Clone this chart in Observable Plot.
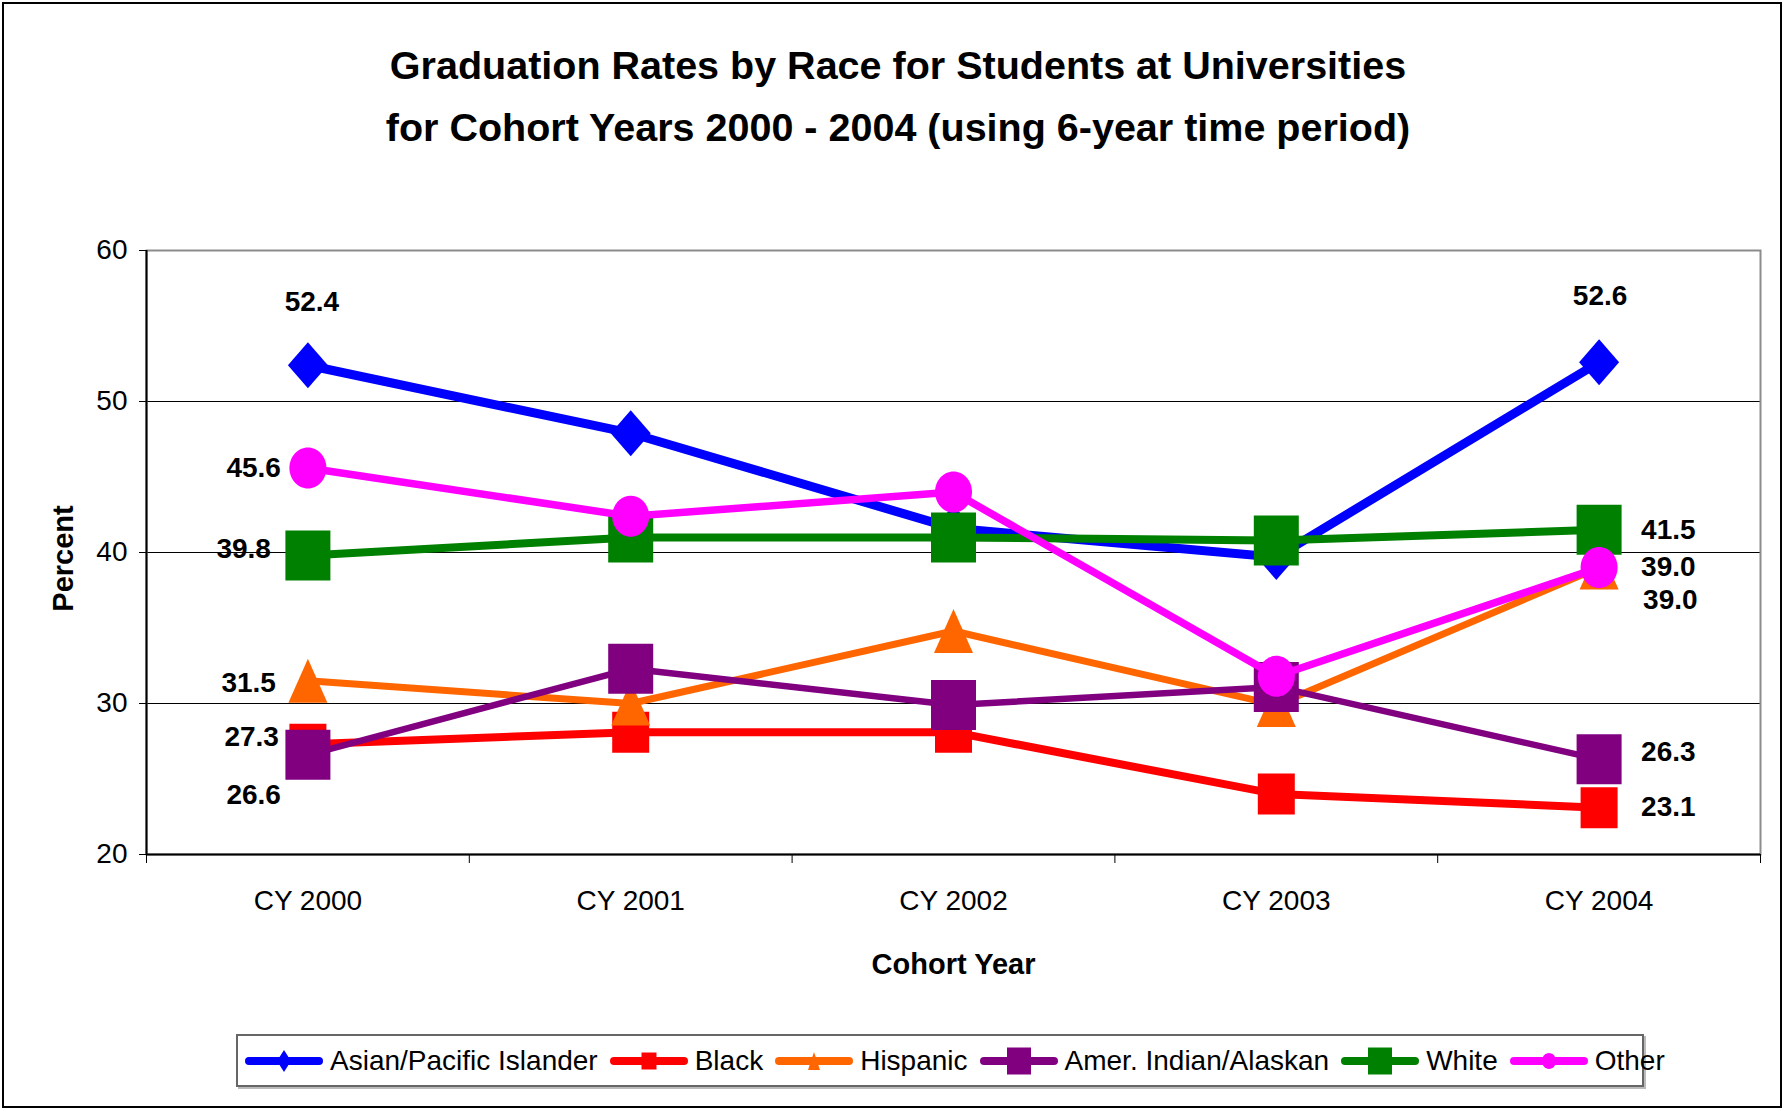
<!DOCTYPE html>
<html><head><meta charset="utf-8">
<script src="https://cdn.jsdelivr.net/npm/d3@7"></script>
<script src="https://cdn.jsdelivr.net/npm/@observablehq/plot@0.6"></script>
<style>
body{margin:0;background:#fff;font-family:"Liberation Sans",Arial,sans-serif;}
#page{position:relative;width:1786px;height:1111px;overflow:hidden;background:#fff;}
#border{position:absolute;left:2px;top:2px;width:1776px;height:1102px;border:2px solid #000;}
#title{position:absolute;left:0;width:1796px;top:34px;text-align:center;font-weight:bold;font-size:39.5px;line-height:62px;color:#000;}
#chart{position:absolute;left:0;top:200px;}
#legend{position:absolute;left:236px;top:1034px;width:1398px;height:49px;border:2px solid #666;box-shadow:2px 2px 0 #bbb;display:flex;align-items:center;padding-left:6px;box-sizing:content-box;}
.item{display:flex;align-items:center;margin-right:11px;font-size:28px;white-space:nowrap;}
.item svg{margin-right:6px;}
</style></head>
<body><div id="page"><div id="border"></div>
<div id="title">Graduation Rates by Race for Students at Universities<br>for Cohort Years 2000 - 2004 (using 6-year time period)</div>
<div id="chart"></div>
<div id="legend"></div>
</div>
<script>
// ---- data ----
const categories = ["CY 2000", "CY 2001", "CY 2002", "CY 2003", "CY 2004"];
const seriesNames = ["Asian/Pacific Islander", "Black", "Hispanic", "Amer. Indian/Alaskan", "White", "Other"];
const asianPacific = [52.4, 47.9, 41.6, 39.7, 52.6];
const black = [27.3, 28.1, 28.1, 24.0, 23.1];
const hispanic = [31.5, 30.0, 34.8, 29.9, 39.0];
const amerIndian = [26.6, 32.3, 29.9, 31.1, 26.3];
const white = [39.8, 41.0, 41.0, 40.8, 41.5];
const other = [45.6, 42.4, 44.0, 31.8, 39.0];
const yTicks = [20, 30, 40, 50, 60];
const xTitle = "Cohort Year";
const yTitle = "Percent";

const seriesValues = [asianPacific, black, hispanic, amerIndian, white, other];

// ---- styles ----
function diamond(w, h) { return {draw(c) { c.moveTo(0, -h/2); c.lineTo(w/2, 0); c.lineTo(0, h/2); c.lineTo(-w/2, 0); c.closePath(); }}; }
function square(w, h) { return {draw(c) { c.rect(-w/2, -h/2, w, h); }}; }
function triangle(w, h) { return {draw(c) { c.moveTo(0, -h/2); c.lineTo(w/2, h/2); c.lineTo(-w/2, h/2); c.closePath(); }}; }
function ellipse(w, h) { return {draw(c) {
  const a = w/2, b = h/2, k = 0.5523;
  c.moveTo(a, 0);
  c.bezierCurveTo(a, k*b, k*a, b, 0, b);
  c.bezierCurveTo(-k*a, b, -a, k*b, -a, 0);
  c.bezierCurveTo(-a, -k*b, -k*a, -b, 0, -b);
  c.bezierCurveTo(k*a, -b, a, -k*b, a, 0);
  c.closePath();
}}; }

const styles = [
  {color: "#0000FF", width: 9, sym: diamond(40, 46), leg: diamond(14, 22)},
  {color: "#FF0000", width: 8, sym: square(37, 41), leg: square(15, 17)},
  {color: "#FF6600", width: 7, sym: triangle(39, 44), leg: triangle(12, 18)},
  {color: "#800080", width: 6.5, sym: square(45, 50), leg: square(24, 27)},
  {color: "#008000", width: 8, sym: square(45, 50), leg: square(24, 27)},
  {color: "#FF00FF", width: 7.5, sym: ellipse(37, 41), leg: ellipse(14, 16)}
];
// label offsets [dx, dy, anchor] for first and last points
const labelOffsets = [
  [[4, -63, "middle"], [1, -66, "middle"]],
  [[-29, -7, "end"], [42, -1, "start"]],
  [[-32, 2, "end"], [44, 32, "start"]],
  [[-27, 40, "end"], [42, -7, "start"]],
  [[-37, -6, "end"], [42, 0, "start"]],
  [[-27, 0, "end"], [42, -1, "start"]]
];

const rows = seriesNames.map((s, i) => categories.map((c, j) => ({series: s, cat: c, x: j, y: seriesValues[i][j]})));
const n = categories.length;
const fmt = d3.format(".1f");
const font = '"Liberation Sans", Arial, sans-serif';

const marks = [
  Plot.ruleY(yTicks.slice(1, -1), {stroke: "#000", strokeWidth: 1}),
  Plot.frame({stroke: "#8c8c8c", strokeWidth: 2}),
  Plot.ruleX([-0.5], {stroke: "#000", strokeWidth: 2}),
  Plot.ruleY([yTicks[0]], {stroke: "#000", strokeWidth: 2}),
  Plot.axisY({ticks: yTicks, tickSize: 7, tickPadding: 12, fontSize: 28, label: null, stroke: "#000"}),
  Plot.axisX({ticks: d3.range(n + 1).map(i => i - 0.5), tickFormat: () => "", tickSize: 9, label: null, stroke: "#000"}),
  Plot.axisX({ticks: d3.range(n), tickFormat: i => categories[i], tickSize: 0, tickPadding: 36, fontSize: 28, label: null}),
  Plot.text([xTitle], {frameAnchor: "bottom", dy: 119, fontSize: 29, fontWeight: "bold", fill: "#000"}),
  Plot.text([yTitle], {frameAnchor: "left", dx: -83, dy: 6, rotate: -90, textAnchor: "middle", fontSize: 29, fontWeight: "bold", fill: "#000"})
];
rows.forEach((data, i) => {
  const st = styles[i];
  marks.push(Plot.line(data, {x: "x", y: "y", stroke: st.color, strokeWidth: st.width, strokeLinejoin: "round"}));
  marks.push(Plot.dot(data, {x: "x", y: "y", symbol: st.sym, fill: st.color, stroke: "none", r: 10}));
});
rows.forEach((data, i) => {
  [0, n - 1].forEach((j, k) => {
    const [dx, dy, anchor] = labelOffsets[i][k];
    marks.push(Plot.text([data[j]], {x: "x", y: "y", text: d => fmt(d.y), dx, dy, textAnchor: anchor,
      fontSize: 28, fontWeight: "bold", fill: "#000"}));
  });
});

const chart = Plot.plot({
  width: 1786, height: 800,
  marginTop: 50, marginBottom: 146, marginLeft: 146, marginRight: 26,
  style: {fontFamily: font, fontSize: "28px", color: "#000", background: "transparent"},
  x: {type: "linear", domain: [-0.5, n - 0.5]},
  y: {domain: [yTicks[0], yTicks[yTicks.length - 1]]},
  marks
});
document.getElementById("chart").appendChild(chart);

// legend
const legend = d3.select("#legend");
seriesNames.forEach((s, i) => {
  const st = styles[i];
  const item = legend.append("div").attr("class", "item");
  const svg = item.append("svg").attr("width", 80).attr("height", 34);
  svg.append("line").attr("x1", 5).attr("x2", 75).attr("y1", 17).attr("y2", 17)
    .attr("stroke", st.color).attr("stroke-width", 8).attr("stroke-linecap", "round");
  const p = d3.path(); st.leg.draw(p);
  svg.append("path").attr("d", p.toString()).attr("transform", "translate(40,17)").attr("fill", st.color);
  item.append("span").text(s);
});
</script>
</body></html>
